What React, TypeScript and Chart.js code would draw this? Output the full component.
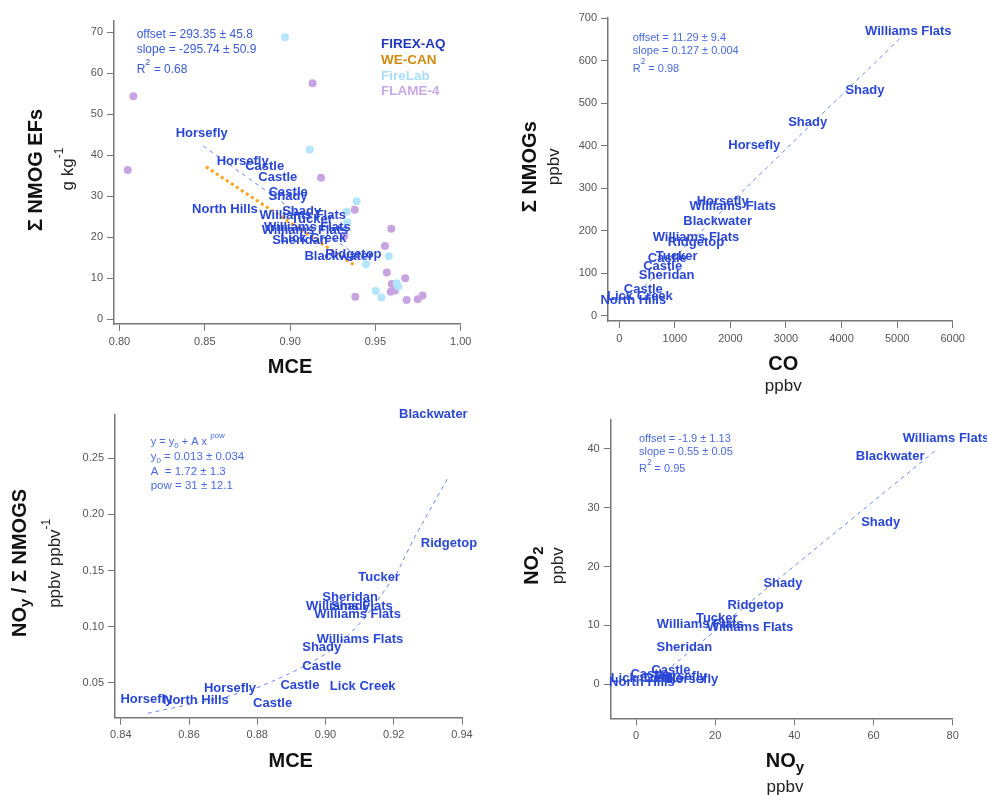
import React, { useEffect, useRef } from 'react';
import { Chart, registerables } from 'chart.js';

Chart.register(...registerables);

const FONT = '"Liberation Sans", Arial, Helvetica, sans-serif';
const LABEL_BLUE = '#2a47d6';
const NOTE_BLUE = '#4a6ae0';
const FIT_BLUE = '#7088e2';

// ---------- Panel 1: Σ NMOG EFs vs MCE ----------
const p1XTicks = [0.8, 0.85, 0.9, 0.95, 1.0];
const p1YTicks = [0, 10, 20, 30, 40, 50, 60, 70];
const p1Names = ['Horsefly', 'Horsefly', 'Castle', 'Castle', 'Castle', 'Shady', 'North Hills', 'Shady',
  'Williams Flats', 'Tucker', 'Williams Flats', 'Williams Flats', 'Lick Creek', 'Sheridan', 'Blackwater', 'Ridgetop'];
const p1Mce = [0.8482, 0.8722, 0.8851, 0.8928, 0.8989, 0.8988, 0.8618, 0.9068,
  0.9074, 0.9128, 0.9101, 0.9087, 0.9136, 0.9058, 0.9285, 0.9371];
const p1Ef = [45.4, 38.4, 37.2, 34.6, 30.9, 29.9, 26.7, 26.2,
  25.3, 24.4, 22.4, 21.6, 19.8, 19.3, 15.4, 15.7];
const fireLabMce = [0.897, 0.9115, 0.939, 0.9332, 0.9335, 0.9578, 0.9445, 0.9502, 0.9535, 0.9625, 0.9634];
const fireLabEf = [68.8, 41.4, 28.8, 26.2, 23.6, 15.4, 13.4, 6.9, 5.3, 8.8, 8.0];
const flameMce = [0.8081, 0.8048, 0.9132, 0.9181, 0.9379, 0.9318, 0.9593, 0.9556, 0.9567, 0.9675,
  0.9596, 0.959, 0.9615, 0.9683, 0.9748, 0.9777, 0.9382];
const flameEf = [54.4, 36.4, 57.6, 34.5, 26.7, 20.3, 22.1, 17.9, 11.4, 10.0, 8.6, 6.7, 7.0, 4.7, 4.9, 5.8, 5.5];
const p1FitMce = [0.849, 0.937];
const p1FitEf = [42.3, 16.2];
const weCanMce = [0.8507, 0.938];
const weCanEf = [37.2, 13.1];

// ---------- Panel 2: Σ NMOGs vs CO ----------
const p2XTicks = [0, 1000, 2000, 3000, 4000, 5000, 6000];
const p2YTicks = [0, 100, 200, 300, 400, 500, 600, 700];
const p2Names = ['Williams Flats', 'Shady', 'Shady', 'Horsefly', 'Horsefly', 'Williams Flats', 'Blackwater',
  'Williams Flats', 'Ridgetop', 'Tucker', 'Castle', 'Castle', 'Sheridan', 'Castle', 'Lick Creek', 'North Hills'];
const p2Co = [5201, 4421, 3390, 2429, 1861, 2041, 1770, 1380, 1380, 1033, 864, 781, 853, 432, 372, 252];
const p2Nmog = [669.3, 531, 454, 401, 270, 258, 221, 184.5, 172, 140.5, 135, 115, 95, 62, 46, 37];
const p2FitCo = [450, 5150];
const p2FitNmog = [68.4, 665.3];

// ---------- Panel 3: NOy / Σ NMOGs vs MCE ----------
const p3XTicks = [0.84, 0.86, 0.88, 0.9, 0.92, 0.94];
const p3YTicks = [0.05, 0.1, 0.15, 0.2, 0.25];
const p3Names = ['Blackwater', 'Ridgetop', 'Tucker', 'Sheridan', 'Williams Flats', 'Shady', 'Williams Flats',
  'Williams Flats', 'Shady', 'Castle', 'Castle', 'Lick Creek', 'Horsefly', 'Castle', 'Horsefly', 'North Hills'];
const p3Mce = [0.9316, 0.9362, 0.9157, 0.9072, 0.907, 0.9073, 0.9094, 0.9101, 0.8989, 0.8989, 0.8925,
  0.9109, 0.872, 0.8845, 0.8475, 0.862];
const p3Ratio = [0.2885, 0.1737, 0.144, 0.1263, 0.118, 0.1183, 0.111, 0.0889, 0.0814, 0.0651, 0.0482,
  0.0473, 0.0449, 0.0319, 0.0355, 0.0349];
const p3CurveMce = [0.8479, 0.8593, 0.8711, 0.8808, 0.8876, 0.8945, 0.9004, 0.9062, 0.9111, 0.916,
  0.9209, 0.9257, 0.9306, 0.9362];
const p3CurveRatio = [0.023, 0.0304, 0.0378, 0.0467, 0.0556, 0.066, 0.0764, 0.0912, 0.1061, 0.1268,
  0.1476, 0.1773, 0.204, 0.2342];

// ---------- Panel 4: NO2 vs NOy ----------
const p4XTicks = [0, 20, 40, 60, 80];
const p4YTicks = [0, 10, 20, 30, 40];
const p4Names = ['Williams Flats', 'Blackwater', 'Shady', 'Shady', 'Ridgetop', 'Tucker', 'Williams Flats',
  'Williams Flats', 'Sheridan', 'Castle', 'Castle', 'Castle', 'Horsefly', 'Horsefly', 'Lick Creek', 'North Hills'];
const p4Noy = [78.3, 64.2, 61.8, 37.1, 30.2, 20.4, 16.2, 28.8, 12.2, 8.8, 3.5, 6.9, 14.2, 11.3, 1.9, 1.5];
const p4No2 = [41.7, 38.7, 27.5, 17.2, 13.4, 11.2, 10.25, 9.7, 6.2, 2.4, 1.6, 1.0, 0.85, 1.3, 1.0, 0.3];
const p4FitNoy = [9, 76];
const p4FitNo2 = [3.05, 39.9];

// ---------- helpers ----------
type Seg = { t: string; size?: number; bold?: boolean; dy?: number };
type TextItem = {
  segs: Seg[]; x: number; y: number; size: number; bold?: boolean; color: string;
  align?: 'left' | 'center'; rotate?: boolean;
};

const fontStr = (size: number, bold?: boolean) => `${bold ? 'bold ' : ''}${size}px ${FONT}`;

function drawRich(ctx: CanvasRenderingContext2D, it: TextItem) {
  ctx.save();
  ctx.translate(it.x, it.y);
  if (it.rotate) ctx.rotate(-Math.PI / 2);
  ctx.textBaseline = 'middle';
  ctx.textAlign = 'left';
  ctx.fillStyle = it.color;
  const widths = it.segs.map((s) => {
    ctx.font = fontStr(s.size ?? it.size, s.bold ?? it.bold);
    return ctx.measureText(s.t).width;
  });
  const total = widths.reduce((a, b) => a + b, 0);
  let cx = it.align === 'center' ? -total / 2 : 0;
  it.segs.forEach((s, i) => {
    ctx.font = fontStr(s.size ?? it.size, s.bold ?? it.bold);
    ctx.fillText(s.t, cx, s.dy ?? 0);
    cx += widths[i];
  });
  ctx.restore();
}

function makeDeco(texts: TextItem[], labelSets: { ds: number; names: string[] }[]) {
  return {
    id: 'deco',
    afterDatasetsDraw(chart: any) {
      const ctx = chart.ctx as CanvasRenderingContext2D;
      ctx.save();
      ctx.font = fontStr(13, true);
      ctx.fillStyle = LABEL_BLUE;
      ctx.textAlign = 'center';
      ctx.textBaseline = 'middle';
      labelSets.forEach((ls) => {
        const meta = chart.getDatasetMeta(ls.ds);
        meta.data.forEach((el: any, i: number) => ctx.fillText(ls.names[i], el.x, el.y));
      });
      ctx.restore();
    },
    afterDraw(chart: any) {
      texts.forEach((t) => drawRich(chart.ctx, t));
    },
  };
}

function axis(min: number, max: number, tickVals: number[], fmt: (v: number) => string, isX: boolean, size: number) {
  return {
    type: 'linear',
    min,
    max,
    afterFit: (s: any) => {
      if (isX) s.height = size;
      else s.width = size;
    },
    afterBuildTicks: (s: any) => {
      s.ticks = tickVals.map((v) => ({ value: v }));
    },
    ticks: {
      autoSkip: false,
      maxRotation: 0,
      includeBounds: false,
      padding: 4,
      color: '#555',
      font: { family: FONT, size: 11 },
      callback: (v: any) => fmt(Number(v)),
    },
    grid: { display: true, drawOnChartArea: false, drawTicks: true, tickLength: 7, color: '#777', lineWidth: 1 },
    border: { display: true, color: '#777', width: 1.5 },
    title: { display: false },
  };
}

const pts = (xs: number[], ys: number[]) => xs.map((x, i) => ({ x, y: ys[i] }));
const labelDs = (xs: number[], ys: number[]) => ({
  data: pts(xs, ys), pointRadius: 0, pointHoverRadius: 0, showLine: false,
});
const fitDs = (xs: number[], ys: number[], color: string, width: number, dash: number[]) => ({
  data: pts(xs, ys), showLine: true, borderColor: color, borderWidth: width, borderDash: dash,
  pointRadius: 0, pointHoverRadius: 0, fill: false, tension: 0,
});
const dotDs = (xs: number[], ys: number[], color: string) => ({
  data: pts(xs, ys), pointRadius: 4, pointHoverRadius: 4, backgroundColor: color, borderWidth: 0, showLine: false,
});

const f0 = (v: number) => String(Math.round(v));
const f2 = (v: number) => v.toFixed(2);

type PanelCfg = {
  left: number; top: number; w: number; h: number;
  padding: { left: number; right: number; top: number; bottom: number };
  x: [number, number, number[], (v: number) => string];
  y: [number, number, number[], (v: number) => string];
  datasets: any[];
  labelSets: { ds: number; names: string[] }[];
  texts: TextItem[];
};

const R2 = (val: string, size: number): Seg[] => [
  { t: 'R' }, { t: '2', size: size * 0.75, dy: -7 }, { t: ' = ' + val },
];

const panels: PanelCfg[] = [
  {
    left: 0, top: 0, w: 490, h: 390,
    padding: { left: 54, right: 29.3, top: 20.7, bottom: 26 },
    x: [0.79678, 1.0, p1XTicks, f2],
    y: [-1.15, 72.83, p1YTicks, f0],
    datasets: [
      dotDs(fireLabMce, fireLabEf, '#b3e5fc'),
      dotDs(flameMce, flameEf, '#c8a5e1'),
      fitDs(weCanMce, weCanEf, '#ffa31a', 3, [3, 3]),
      fitDs(p1FitMce, p1FitEf, FIT_BLUE, 1, [4, 4]),
      labelDs(p1Mce, p1Ef),
    ],
    labelSets: [{ ds: 4, names: p1Names }],
    texts: [
      { segs: [{ t: 'offset = 293.35 ± 45.8' }], x: 136.7, y: 34.3, size: 12, color: '#3a5ad8' },
      { segs: [{ t: 'slope = -295.74 ± 50.9' }], x: 136.7, y: 49.3, size: 12, color: '#3a5ad8' },
      { segs: R2('0.68', 12), x: 136.7, y: 70, size: 12, color: '#3a5ad8' },
      { segs: [{ t: 'FIREX-AQ' }], x: 381, y: 44.3, size: 13.5, bold: true, color: '#2038c0' },
      { segs: [{ t: 'WE-CAN' }], x: 381, y: 60.3, size: 13.5, bold: true, color: '#d18b0e' },
      { segs: [{ t: 'FireLab' }], x: 381, y: 76, size: 13.5, bold: true, color: '#a9ddf7' },
      { segs: [{ t: 'FLAME-4' }], x: 381, y: 91.3, size: 13.5, bold: true, color: '#c9a9e6' },
      { segs: [{ t: 'Σ NMOG EFs' }], x: 36, y: 170, size: 20, bold: true, color: '#111', align: 'center', rotate: true },
      { segs: [{ t: 'g kg' }, { t: '-1', size: 12, dy: -8 }], x: 68, y: 169, size: 17, color: '#222', align: 'center', rotate: true },
      { segs: [{ t: 'MCE' }], x: 290, y: 367.7, size: 20, bold: true, color: '#111', align: 'center' },
    ],
  },
  {
    left: 490, top: 0, w: 497, h: 400,
    padding: { left: 58, right: 34.3, top: 17.3, bottom: 39 },
    x: [-203, 6000, p2XTicks, f0],
    y: [-12.5, 702.3, p2YTicks, f0],
    datasets: [
      fitDs(p2FitCo, p2FitNmog, FIT_BLUE, 1, [4, 4]),
      labelDs(p2Co, p2Nmog),
    ],
    labelSets: [{ ds: 1, names: p2Names }],
    texts: [
      { segs: [{ t: 'offset = 11.29 ± 9.4' }], x: 142.7, y: 38.3, size: 11, color: NOTE_BLUE },
      { segs: [{ t: 'slope = 0.127 ± 0.004' }], x: 142.7, y: 51, size: 11, color: NOTE_BLUE },
      { segs: R2('0.98', 11), x: 142.7, y: 69, size: 11, color: NOTE_BLUE },
      { segs: [{ t: 'Σ NMOGs' }], x: 40, y: 166.7, size: 20, bold: true, color: '#111', align: 'center', rotate: true },
      { segs: [{ t: 'ppbv' }], x: 64.3, y: 166.7, size: 17, color: '#222', align: 'center', rotate: true },
      { segs: [{ t: 'CO' }], x: 293.3, y: 364.3, size: 20, bold: true, color: '#111', align: 'center' },
      { segs: [{ t: 'ppbv' }], x: 293.3, y: 386.7, size: 17, color: '#222', align: 'center' },
    ],
  },
  {
    left: 0, top: 390, w: 490, h: 405,
    padding: { left: 55, right: 28, top: 24.3, bottom: 37.3 },
    x: [0.8383, 0.94, p3XTicks, f2],
    y: [0.0191, 0.289, p3YTicks, f2],
    datasets: [
      fitDs(p3CurveMce, p3CurveRatio, FIT_BLUE, 1, [4, 4]),
      labelDs(p3Mce, p3Ratio),
    ],
    labelSets: [{ ds: 1, names: p3Names }],
    texts: [
      { segs: [{ t: 'y = y' }, { t: '0', size: 8, dy: 4 }, { t: ' + A x ' }, { t: 'pow', size: 8, dy: -6 }], x: 150.7, y: 51.7, size: 11, color: NOTE_BLUE },
      { segs: [{ t: 'y' }, { t: '0', size: 8, dy: 4 }, { t: ' = 0.013 ± 0.034' }], x: 150.7, y: 66.7, size: 11.5, color: NOTE_BLUE },
      { segs: [{ t: 'A  = 1.72 ± 1.3' }], x: 150.7, y: 82.3, size: 11.5, color: NOTE_BLUE },
      { segs: [{ t: 'pow = 31 ± 12.1' }], x: 150.7, y: 95.7, size: 11.5, color: NOTE_BLUE },
      { segs: [{ t: 'NO' }, { t: 'y', size: 15, dy: 6 }, { t: ' / Σ NMOGS' }], x: 20, y: 173, size: 20, bold: true, color: '#111', align: 'center', rotate: true },
      { segs: [{ t: 'ppbv ppbv' }, { t: '-1', size: 12, dy: -8 }], x: 55, y: 173.3, size: 17, color: '#222', align: 'center', rotate: true },
      { segs: [{ t: 'MCE' }], x: 290.7, y: 371, size: 20, bold: true, color: '#111', align: 'center' },
    ],
  },
  {
    left: 490, top: 400, w: 497, h: 395,
    padding: { left: 60.7, right: 34.3, top: 20, bottom: 36.7 },
    x: [-6.4, 80, p4XTicks, f0],
    y: [-5.78, 44.9, p4YTicks, f0],
    datasets: [
      fitDs(p4FitNoy, p4FitNo2, FIT_BLUE, 1, [4, 4]),
      labelDs(p4Noy, p4No2),
    ],
    labelSets: [{ ds: 1, names: p4Names }],
    texts: [
      { segs: [{ t: 'offset = -1.9 ± 1.13' }], x: 149, y: 39, size: 11, color: NOTE_BLUE },
      { segs: [{ t: 'slope = 0.55 ± 0.05' }], x: 149, y: 51.7, size: 11, color: NOTE_BLUE },
      { segs: R2('0.95', 11), x: 149, y: 69.3, size: 11, color: NOTE_BLUE },
      { segs: [{ t: 'NO' }, { t: '2', size: 15, dy: 6 }], x: 42.7, y: 165.7, size: 20, bold: true, color: '#111', align: 'center', rotate: true },
      { segs: [{ t: 'ppbv' }], x: 68.3, y: 165.7, size: 17, color: '#222', align: 'center', rotate: true },
      { segs: [{ t: 'NO' }, { t: 'y', size: 15, dy: 6 }], x: 295, y: 361.7, size: 20, bold: true, color: '#111', align: 'center' },
      { segs: [{ t: 'ppbv' }], x: 295, y: 387.3, size: 17, color: '#222', align: 'center' },
    ],
  },
];

function Panel({ cfg }: { cfg: PanelCfg }) {
  const ref = useRef<HTMLCanvasElement | null>(null);
  useEffect(() => {
    if (!ref.current) return;
    const chart = new Chart(ref.current, {
      type: 'scatter',
      data: { datasets: cfg.datasets },
      options: {
        responsive: false,
        maintainAspectRatio: false,
        animation: false,
        events: [],
        layout: { padding: cfg.padding },
        plugins: { legend: { display: false }, tooltip: { enabled: false }, title: { display: false } },
        scales: {
          x: axis(cfg.x[0], cfg.x[1], cfg.x[2], cfg.x[3], true, 40),
          y: axis(cfg.y[0], cfg.y[1], cfg.y[2], cfg.y[3], false, 60),
        } as any,
      },
      plugins: [makeDeco(cfg.texts, cfg.labelSets)],
    } as any);
    return () => chart.destroy();
  }, [cfg]);
  return (
    <canvas
      ref={ref}
      width={cfg.w}
      height={cfg.h}
      style={{ position: 'absolute', left: cfg.left, top: cfg.top, width: cfg.w, height: cfg.h }}
    />
  );
}

export default function App() {
  return (
    <div style={{ position: 'absolute', left: 0, top: 0, width: 987, height: 795, background: '#fff', overflow: 'hidden' }}>
      {panels.map((p, i) => (
        <Panel key={i} cfg={p} />
      ))}
    </div>
  );
}
